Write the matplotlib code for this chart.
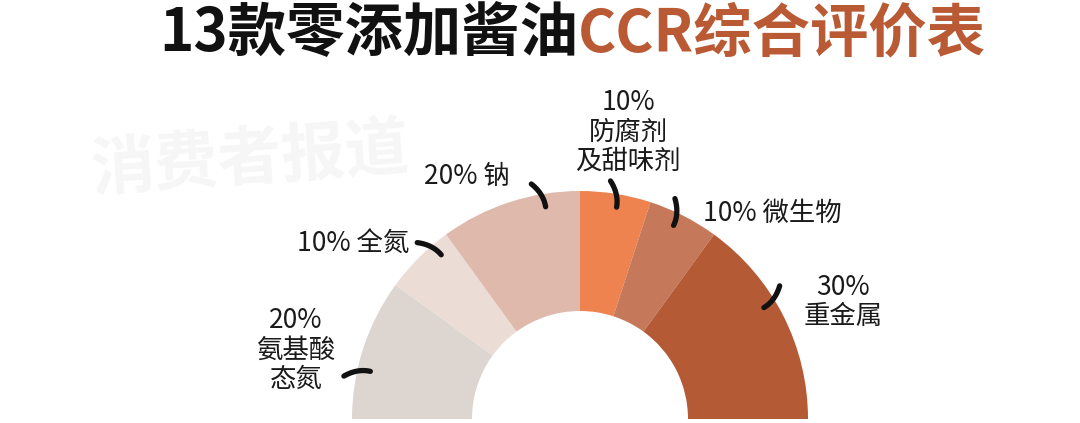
import matplotlib
matplotlib.use("Agg")
import matplotlib.pyplot as plt
import numpy as np

plt.rcParams['font.family'] = ['Noto Sans CJK SC', 'DejaVu Sans']

# data
labels = ["20%\n氨基酸\n态氮", "10% 全氮", "20% 钠", "10%\n防腐剂\n及甜味剂", "10% 微生物", "30%\n重金属"]
weights = [20, 10, 20, 10, 10, 30]
colors = ["#ddd5d0", "#ecdcd6", "#dfb9ab", "#ef8350", "#c5785a", "#b45a35"]
title_black = "13款零添加酱油"
title_orange = "CCR综合评价表"
watermark = "消费者报道"

W, H = 1080, 423
fig = plt.figure(figsize=(W / 100, H / 100), dpi=100)
ax = fig.add_axes([0, 0, 1, 1])

cx, cy = 580, 4          # centre of the half ring (pixels, y up)
r_out, r_in = 228, 108

# top half = data, bottom half = hidden filler
vals = weights + [sum(weights)]
wedges, _ = ax.pie(vals, colors=colors + ["none"], startangle=180, counterclock=False,
                   radius=r_out, center=(cx, cy),
                   wedgeprops=dict(width=r_out - r_in, linewidth=0))

ax.set_xlim(0, W)
ax.set_ylim(0, H)
ax.set_aspect("equal")
ax.axis("off")

# small black brush ticks
tick_angles = [168, 131, 100, 81, 65, 32]
for a in tick_angles:
    t = np.linspace(0, 1, 20)
    r = 215 + 25 * t
    ang = np.radians(a + 2.5 * t ** 2 - 0.8)
    ax.plot(cx + r * np.cos(ang), cy + r * np.sin(ang), color="#111111",
            lw=3.8, solid_capstyle="round", zorder=5)

# labels (pixel positions, image y measured from top)
label_pos = [(296, 350, "center"), (297, 243, "left"), (424, 176, "left"),
             (628, 132, "center"), (703, 213, "left"), (843, 302, "center")]
for txt, (x, y, ha) in zip(labels, label_pos):
    ax.text(x, H - y, txt, ha=ha, va="center", fontsize=19, color="#1a1a1a",
            fontweight="light", linespacing=1.12, zorder=6)

# watermark
ax.text(250, H - 160, watermark, ha="center", va="center", fontsize=46,
        color="#f6f6f6", fontweight="bold", rotation=4, zorder=0)

# title
ax.text(578, H - 34, title_black, ha="right", va="center", fontsize=42,
        fontweight="bold", color="#111111")
ax.text(578, H - 34, title_orange, ha="left", va="center", fontsize=42,
        fontweight="bold", color="#b95a35")

fig.savefig("out.png", dpi=100, facecolor="white")
